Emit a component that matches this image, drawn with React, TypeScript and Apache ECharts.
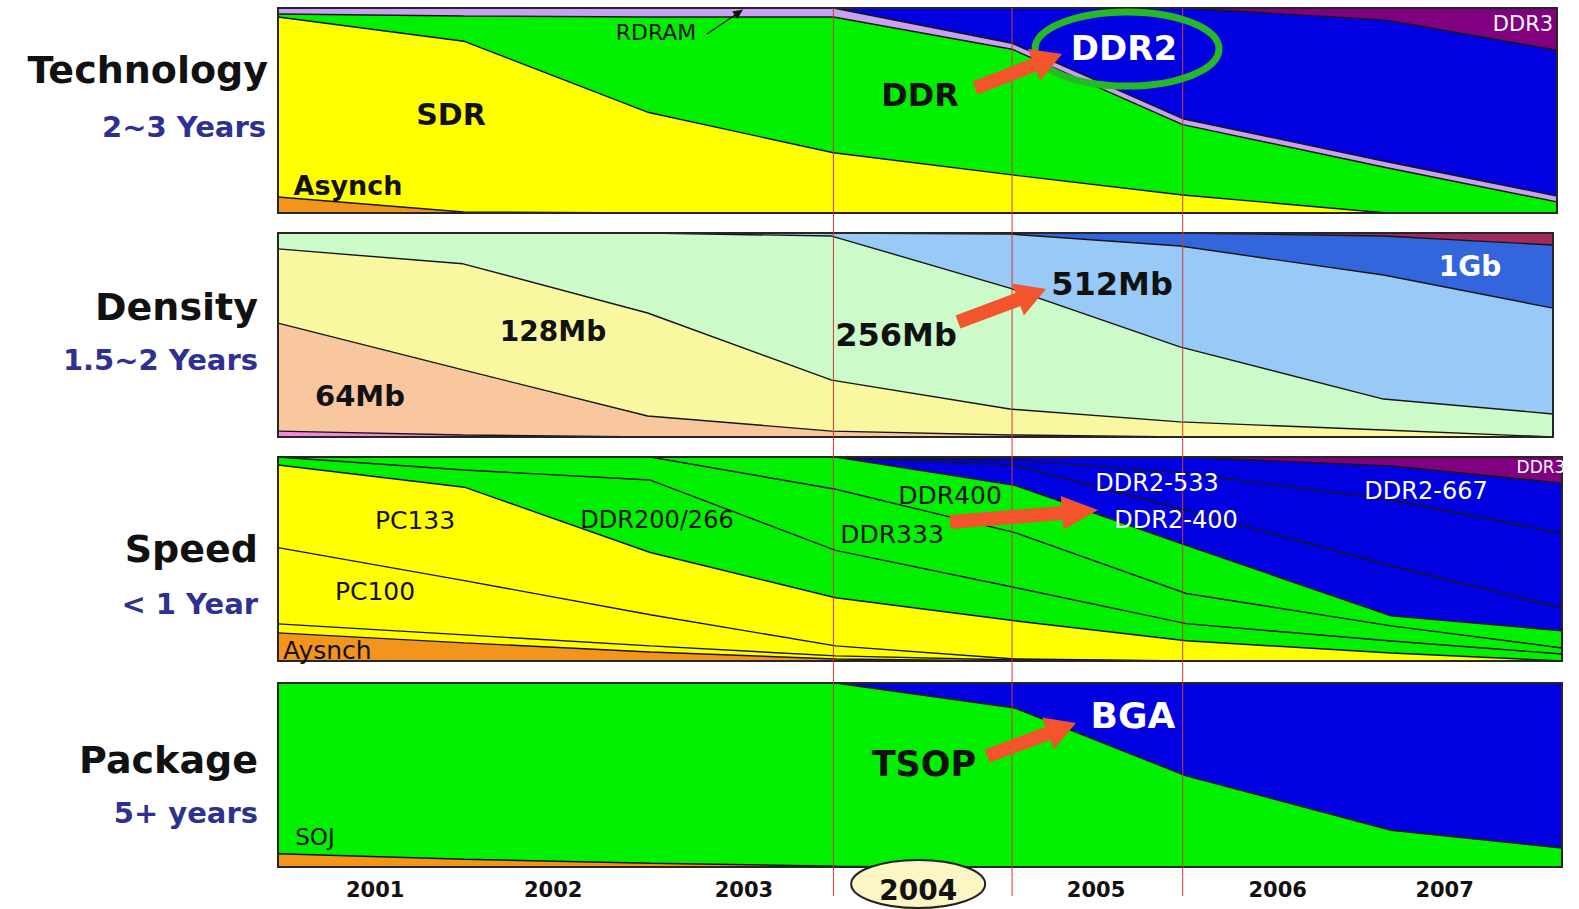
import React, { useEffect, useRef } from "react";
import * as echarts from "echarts";

// ---------- shared x scale: period boundaries (dates) ----------
const periodEdges = [
  "2001-01-01",
  "2002-01-07",
  "2003-01-12",
  "2004-01-16",
  "2005-01-07",
  "2005-12-14",
  "2007-01-26",
  "2008-01-01",
];
const axisStart = "2001-01-01";
const axisEnd = "2008-01-01";
// year tick labels, positioned in years elapsed since the start of 2001
const yearLabels = ["2001", "2002", "2003", "2004", "2005", "2006", "2007"];
const yearLabelPositions = [0.53, 1.5, 2.54, 3.49, 4.46, 5.45, 6.36];
const highlightedYear = "2004";
const markedEdgeIndices = [3, 4, 5];

// ---------- Technology (% share) ----------
const techAsynch = [7.8, 0.5, 0, 0, 0, 0, 0, 0];
const techSDR = [87.8, 83.3, 49.0, 29.4, 18.6, 8.8, 0, 0];
const techDDR = [1.5, 12.3, 46.6, 66.2, 61.3, 34.3, 22.1, 5.4];
const techRDRAM = [2.9, 3.9, 4.4, 4.4, 2.9, 2.9, 2.9, 2.9];
const techDDR2 = [0, 0, 0, 0, 17.2, 54.0, 69.1, 71.1];
const techDDR3 = [0, 0, 0, 0, 0, 0, 5.9, 20.6];

// ---------- Density (% share) ----------
const dens32Mb = [2.9, 1.0, 0, 0, 0, 0, 0, 0];
const dens64Mb = [52.9, 31.9, 10.3, 2.9, 1.0, 0, 0, 0];
const dens128Mb = [36.4, 52.0, 50.5, 25.0, 12.7, 7.4, 3.4, 0];
const dens256Mb = [7.8, 15.1, 39.2, 70.6, 59.3, 36.8, 15.2, 11.3];
const dens512Mb = [0, 0, 0, 1.5, 26.5, 49.4, 60.8, 51.9];
const dens1Gb = [0, 0, 0, 0, 0.5, 6.4, 19.1, 30.9];
const dens2Gb = [0, 0, 0, 0, 0, 0, 1.5, 5.9];

// ---------- Speed (% share) ----------
const spdAsynch = [13.8, 8.9, 4.4, 1.0, 0, 0, 0, 0];
const spdPC66 = [4.4, 3.9, 3.0, 1.5, 0.5, 0, 0, 0];
const spdPC100 = [37.4, 26.6, 15.3, 4.9, 0.5, 0, 0, 0];
const spdPC133 = [40.5, 45.8, 30.5, 23.6, 18.7, 9.9, 3.9, 0];
const spdDDR266 = [3.9, 8.4, 35.5, 23.2, 16.3, 8.4, 5.9, 3.4];
const spdDDR333 = [0, 6.4, 11.3, 30.0, 26.9, 14.8, 7.4, 3.0];
const spdDDR400 = [0, 0, 0, 15.8, 23.2, 23.6, 4.9, 8.4];
const spdDDR2_400 = [0, 0, 0, 0, 9.9, 17.2, 24.6, 11.3];
const spdDDR2_533 = [0, 0, 0, 0, 2.5, 18.2, 32.2, 36.5];
const spdDDR2_667 = [0, 0, 0, 0, 1.5, 7.9, 16.7, 24.6];
const spdDDR3 = [0, 0, 0, 0, 0, 0, 4.4, 12.8];

// ---------- Package (% share) ----------
const pkgSOJ = [7.2, 4.2, 2.0, 0.5, 0, 0, 0, 0];
const pkgTSOP = [92.8, 95.8, 98.0, 99.5, 86.4, 49.5, 20.0, 10.3];
const pkgBGA = [0, 0, 0, 0, 13.6, 50.5, 80.0, 89.7];

// ---------- colours ----------
const ORANGE = "#f3941c";
const YELLOW = "#ffff00";
const GREEN = "#00f000";
const BLUE = "#0000e0";
const PURPLE = "#800080";
const LAVENDER = "#c8a2f0";

const panels = [
  {
    stack: "tech",
    layers: [
      ["Asynch", techAsynch, ORANGE],
      ["SDR", techSDR, YELLOW],
      ["DDR", techDDR, GREEN],
      ["RDRAM", techRDRAM, LAVENDER],
      ["DDR2", techDDR2, BLUE],
      ["DDR3", techDDR3, PURPLE],
    ],
  },
  {
    stack: "density",
    layers: [
      ["32Mb", dens32Mb, "#f088dc"],
      ["64Mb", dens64Mb, "#f9c79e"],
      ["128Mb", dens128Mb, "#f9f7a0"],
      ["256Mb", dens256Mb, "#ccfac8"],
      ["512Mb", dens512Mb, "#99c9f7"],
      ["1Gb", dens1Gb, "#3366dd"],
      ["2Gb", dens2Gb, "#a02a5a"],
    ],
  },
  {
    stack: "speed",
    layers: [
      ["Aysnch", spdAsynch, ORANGE],
      ["PC66", spdPC66, YELLOW],
      ["PC100", spdPC100, YELLOW],
      ["PC133", spdPC133, YELLOW],
      ["DDR200/266", spdDDR266, GREEN],
      ["DDR333", spdDDR333, GREEN],
      ["DDR400", spdDDR400, GREEN],
      ["DDR2-400", spdDDR2_400, BLUE],
      ["DDR2-533", spdDDR2_533, BLUE],
      ["DDR2-667", spdDDR2_667, BLUE],
      ["DDR3", spdDDR3, PURPLE],
    ],
  },
  {
    stack: "package",
    layers: [
      ["SOJ", pkgSOJ, ORANGE],
      ["TSOP", pkgTSOP, GREEN],
      ["BGA", pkgBGA, BLUE],
    ],
  },
];

const gridRects = [
  { left: 278, top: 8, width: 1279, height: 205 },
  { left: 278, top: 233, width: 1275, height: 204 },
  { left: 278, top: 457, width: 1284, height: 204 },
  { left: 278, top: 683, width: 1284, height: 184 },
];

const FONT = "DejaVu Sans";
const SUB = "#2e3192";
const ARROW = "#f2552c";

function txt(text: string, x: number, y: number, size: number, bold: boolean, color = "#111", align = "center") {
  return {
    type: "text",
    x,
    y,
    z: 60,
    silent: true,
    style: {
      text,
      fontSize: size,
      fontFamily: FONT,
      fontWeight: bold ? "bold" : "normal",
      fill: color,
      align,
      verticalAlign: "middle",
    },
  };
}

function arrowPoints(x1: number, y1: number, x2: number, y2: number, sh: number, hl: number, hh: number) {
  const dx = x2 - x1;
  const dy = y2 - y1;
  const L = Math.hypot(dx, dy);
  const ux = dx / L;
  const uy = dy / L;
  const nx = -uy;
  const ny = ux;
  const bx = x2 - ux * hl;
  const by = y2 - uy * hl;
  return [
    [x1 + nx * sh, y1 + ny * sh],
    [bx + nx * sh, by + ny * sh],
    [bx + nx * hh, by + ny * hh],
    [x2, y2],
    [bx - nx * hh, by - ny * hh],
    [bx - nx * sh, by - ny * sh],
    [x1 - nx * sh, y1 - ny * sh],
  ];
}

function blockArrow(x1: number, y1: number, x2: number, y2: number, sh = 7, hl = 30, hh = 17) {
  return {
    type: "polygon",
    z: 58,
    silent: true,
    shape: { points: arrowPoints(x1, y1, x2, y2, sh, hl, hh) },
    style: { fill: ARROW },
  };
}

export default function App() {
  const ref = useRef<HTMLDivElement>(null);

  useEffect(() => {
    if (!ref.current) return;
    const chart = echarts.init(ref.current, undefined, { renderer: "svg" });

    const grids = gridRects.map((g) => ({ ...g, containLabel: false, show: false }));
    const xAxes: any[] = gridRects.map((_, i) => ({
      type: "time",
      gridIndex: i,
      min: axisStart,
      max: axisEnd,
      show: false,
      position: "top",
      axisLine: { show: false },
      axisTick: { show: false },
      axisLabel: { show: false },
      splitLine: { show: false },
    }));
    // year label axis on the package panel
    xAxes.push({
      type: "value",
      gridIndex: 3,
      min: 0,
      max: 7,
      position: "bottom",
      z: 60,
      axisLine: { show: false },
      axisTick: { show: false },
      splitLine: { show: false },
      axisLabel: {
        show: true,
        customValues: yearLabelPositions,
        margin: 12,
        lineHeight: 22,
        formatter: (v: number) => {
          let best = 0;
          yearLabelPositions.forEach((p, k) => {
            if (Math.abs(p - v) < Math.abs(yearLabelPositions[best] - v)) best = k;
          });
          const y = yearLabels[best];
          return y === highlightedYear ? `{hl|${y}}` : `{n|${y}}`;
        },
        rich: {
          n: { fontSize: 21, fontWeight: "bold", fontFamily: FONT, color: "#111", lineHeight: 22 },
          hl: { fontSize: 28, fontWeight: "bold", fontFamily: FONT, color: "#111", lineHeight: 22 },
        },
      },
    });
    const yAxes = gridRects.map((_, i) => ({
      type: "value",
      gridIndex: i,
      min: 0,
      max: 100,
      show: false,
      splitLine: { show: false },
    }));

    const series: any[] = [];
    panels.forEach((p, gi) => {
      const n = p.layers.length;
      p.layers.forEach(([name, values, color]: any, li: number) => {
        series.push({
          type: "line",
          name,
          xAxisIndex: gi,
          yAxisIndex: gi,
          stack: p.stack,
          data: (values as number[]).map((v, k) => [periodEdges[k], v]),
          symbol: "none",
          showSymbol: false,
          silent: true,
          z: 10 + (n - li),
          lineStyle: { color: "#161616", width: 1.4 },
          areaStyle: { color, opacity: 1 },
          emphasis: { disabled: true },
        });
      });
    });

    chart.setOption({
      animation: false,
      backgroundColor: "#ffffff",
      grid: grids,
      xAxis: xAxes,
      yAxis: yAxes,
      series,
    });

    const pxTime = (gi: number, x: string) =>
      (chart.convertToPixel({ xAxisIndex: gi, yAxisIndex: gi }, [x, 0]) as number[])[0];
    const pxLabel = (v: number) =>
      (chart.convertToPixel({ xAxisIndex: 4, yAxisIndex: 3 }, [v, 0]) as number[])[0];

    const graphics: any[] = [];

    // panel frames
    gridRects.forEach((g) => {
      graphics.push({
        type: "rect",
        z: 44,
        silent: true,
        shape: { x: g.left, y: g.top, width: g.width, height: g.height },
        style: { fill: "none", stroke: "#262626", lineWidth: 2 },
      });
    });

    // red year markers
    markedEdgeIndices.forEach((ei) => {
      const x = pxTime(0, periodEdges[ei]);
      graphics.push({
        type: "line",
        z: 45,
        silent: true,
        shape: { x1: x, y1: gridRects[0].top, x2: x, y2: 896 },
        style: { stroke: "#cc3a3a", lineWidth: 1 },
      });
    });

    // highlighted year ellipse
    const hx = pxLabel(yearLabelPositions[yearLabels.indexOf(highlightedYear)]);
    graphics.push({
      type: "ellipse",
      z: 48,
      silent: true,
      shape: { cx: hx, cy: 884, rx: 67, ry: 24 },
      style: { fill: "#fbf6c4", stroke: "#222", lineWidth: 2 },
    });

    // row titles
    graphics.push(txt("Technology", 268, 70, 38, true, "#111", "right"));
    graphics.push(txt("2~3 Years", 266, 127, 29, true, SUB, "right"));
    graphics.push(txt("Density", 258, 307, 38, true, "#111", "right"));
    graphics.push(txt("1.5~2 Years", 258, 360, 29, true, SUB, "right"));
    graphics.push(txt("Speed", 258, 549, 38, true, "#111", "right"));
    graphics.push(txt("< 1 Year", 258, 604, 29, true, SUB, "right"));
    graphics.push(txt("Package", 258, 760, 38, true, "#111", "right"));
    graphics.push(txt("5+ years", 258, 813, 29, true, SUB, "right"));

    // technology labels
    graphics.push(txt("RDRAM", 656, 32, 22, false));
    graphics.push({
      type: "line",
      z: 58,
      silent: true,
      shape: { x1: 707, y1: 34, x2: 738, y2: 13 },
      style: { stroke: "#111", lineWidth: 1.5 },
    });
    graphics.push({
      type: "polygon",
      z: 58,
      silent: true,
      shape: { points: arrowPoints(730, 18.5, 743, 9.5, 0, 10, 4.5) },
      style: { fill: "#111" },
    });
    graphics.push(txt("SDR", 451, 114, 30, true));
    graphics.push(txt("Asynch", 348, 185, 27, true));
    graphics.push(txt("DDR", 920, 95, 32, true));
    graphics.push(blockArrow(975, 88, 1062, 54));
    graphics.push({
      type: "ellipse",
      z: 55,
      silent: true,
      shape: { cx: 1127, cy: 49, rx: 92, ry: 37 },
      style: { fill: "none", stroke: "#26b826", lineWidth: 7 },
    });
    graphics.push(txt("DDR2", 1124, 48, 34, true, "#ffffff"));
    graphics.push(txt("DDR3", 1523, 24, 21, false, "#ffffff"));

    // density labels
    graphics.push(txt("128Mb", 553, 331, 28, true));
    graphics.push(txt("64Mb", 360, 396, 29, true));
    graphics.push(txt("256Mb", 896, 335, 32, true));
    graphics.push(blockArrow(958, 322, 1046, 289));
    graphics.push(txt("512Mb", 1112, 284, 32, true));
    graphics.push(txt("1Gb", 1470, 266, 28, true, "#ffffff"));

    // speed labels
    graphics.push(txt("PC133", 415, 520, 25, false));
    graphics.push(txt("PC100", 375, 591, 25, false));
    graphics.push(txt("Aysnch", 283, 650, 25, false, "#111", "left"));
    graphics.push(txt("DDR200/266", 657, 520, 24, false));
    graphics.push(txt("DDR400", 950, 495, 25, false));
    graphics.push(txt("DDR333", 892, 534, 25, false));
    graphics.push(blockArrow(950, 522, 1098, 510, 7, 36, 17));
    graphics.push(txt("DDR2-533", 1157, 483, 24, false, "#ffffff"));
    graphics.push(txt("DDR2-400", 1176, 520, 24, false, "#ffffff"));
    graphics.push(txt("DDR2-667", 1426, 491, 24, false, "#ffffff"));
    graphics.push(txt("DDR3", 1541, 467, 17, false, "#ffffff"));

    // package labels
    graphics.push(txt("TSOP", 924, 764, 35, true));
    graphics.push(blockArrow(987, 756, 1076, 723));
    graphics.push(txt("BGA", 1133, 715, 36, true, "#ffffff"));
    graphics.push(txt("SOJ", 315, 837, 23, false));

    chart.setOption({ graphic: graphics });

    return () => {
      chart.dispose();
    };
  }, []);

  return (
    <div
      ref={ref}
      style={{ position: "absolute", left: 0, top: 0, width: 1579, height: 909, background: "#fff" }}
    />
  );
}
